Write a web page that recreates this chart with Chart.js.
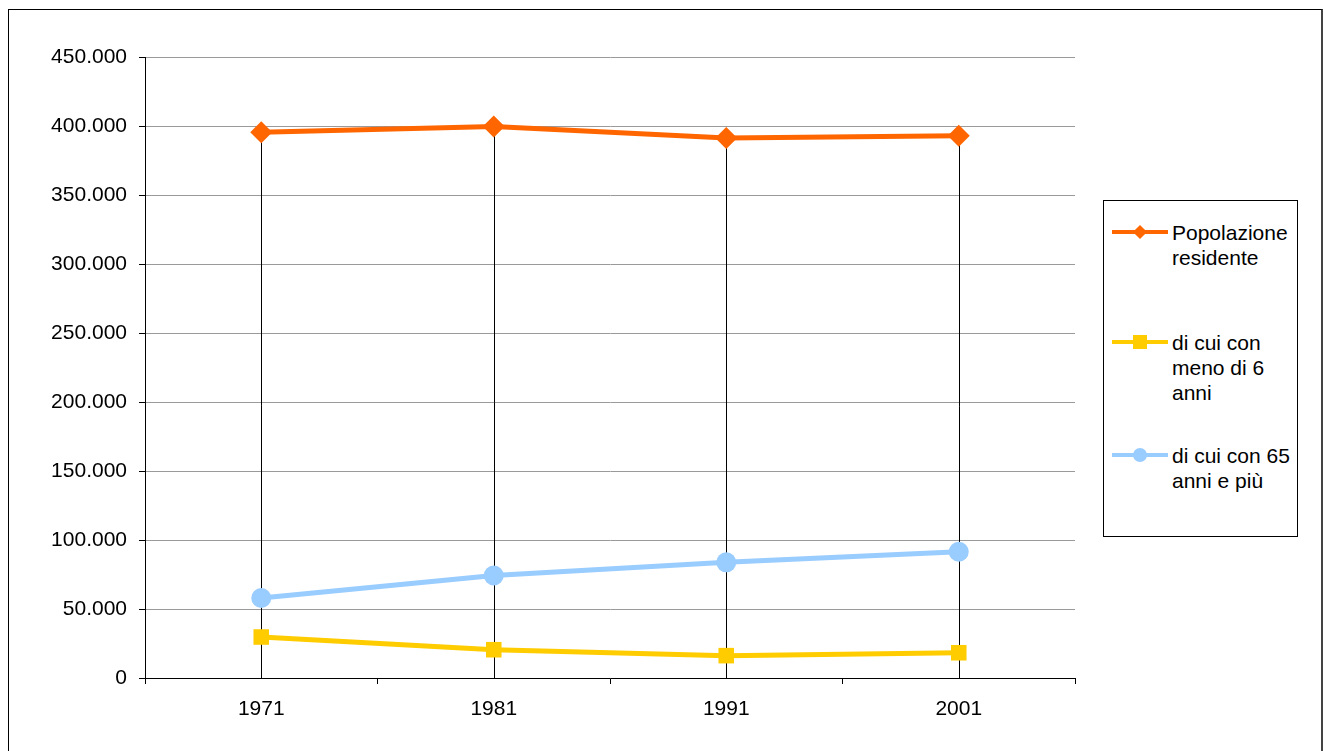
<!DOCTYPE html>
<html>
<head>
<meta charset="utf-8">
<script src="https://cdn.jsdelivr.net/npm/chart.js@4"></script>
<style>
  html, body { margin: 0; padding: 0; background: #fff; }
  body { width: 1324px; height: 751px; position: relative; overflow: hidden; font-family: "Liberation Sans", Arial, sans-serif; }
  #frame { position: absolute; left: 8px; top: 9px; width: 1312px; height: 780px; border: 1px solid #000; border-right: 2px solid #444; }
  #wrap { position: absolute; left: 0; top: 0; width: 1324px; height: 751px; }
  #legend { position: absolute; left: 1103px; top: 200px; width: 193px; height: 335px; border: 1px solid #000; background: #fff; }
  .item { position: absolute; left: 0; width: 193px; font-size: 21px; line-height: 25px; color: #000; }
  .item .txt { position: absolute; left: 68px; top: 0; white-space: nowrap; }
  .item .ln { position: absolute; left: 8px; top: 10px; width: 56px; height: 4px; }
  .item .mk { position: absolute; }
</style>
</head>
<body>
<div id="frame"></div>
<div id="wrap"><canvas id="chart" width="1324" height="751"></canvas></div>
<div id="legend"></div>
<script>
// -----------------------------
// DATA
// -----------------------------
const categories = ["1971", "1981", "1991", "2001"];
const popolazione = [395500, 399700, 391300, 393000];
const meno6 = [29700, 20500, 16200, 18300];
const over65 = [58000, 74300, 83800, 91500];

const seriesNames = [["Popolazione", "residente"], ["di cui con", "meno di 6", "anni"], ["di cui con 65", "anni e più"]];
const seriesColors = ["#FF6600", "#FFCC00", "#99CCFF"];

const fmt = v => String(v).replace(/\B(?=(\d{3})+(?!\d))/g, '.');

// drop lines from axis up to the highest point of each category
const dropLines = {
    id: 'dropLines',
    beforeDatasetsDraw(chart) {
        const { ctx, scales: { x, y } } = chart;
        ctx.save();
        ctx.strokeStyle = '#000';
        ctx.lineWidth = 1;
        categories.forEach((c, i) => {
            const top = Math.max(popolazione[i], meno6[i], over65[i]);
            const px = Math.round(x.getPixelForValue(i)) + 0.5;
            ctx.beginPath();
            ctx.moveTo(px, y.getPixelForValue(0));
            ctx.lineTo(px, y.getPixelForValue(top));
            ctx.stroke();
        });
        ctx.restore();
    }
};

const font = { family: '"Liberation Sans", Arial, sans-serif', size: 21 };

new Chart(document.getElementById('chart').getContext('2d'), {
    type: 'line',
    data: {
        labels: categories,
        datasets: [{
            label: 'Popolazione residente',
            data: popolazione,
            borderColor: seriesColors[0],
            backgroundColor: seriesColors[0],
            borderWidth: 5,
            pointStyle: 'rectRot',
            pointRadius: 11,
            pointBorderWidth: 0,
            tension: 0
        }, {
            label: 'di cui con meno di 6 anni',
            data: meno6,
            borderColor: seriesColors[1],
            backgroundColor: seriesColors[1],
            borderWidth: 5,
            pointStyle: 'rect',
            pointRadius: 11,
            pointBorderWidth: 0,
            tension: 0
        }, {
            label: 'di cui con 65 anni e più',
            data: over65,
            borderColor: seriesColors[2],
            backgroundColor: seriesColors[2],
            borderWidth: 5,
            pointStyle: 'circle',
            pointRadius: 10,
            pointBorderWidth: 0,
            tension: 0
        }]
    },
    options: {
        responsive: false,
        animation: false,
        layout: { padding: { left: 0, top: 57, right: 249, bottom: 0 } },
        plugins: { legend: { display: false }, tooltip: { enabled: false } },
        scales: {
            x: {
                offset: true,
                grid: { offset: true, drawOnChartArea: false, tickLength: 6, tickColor: '#000' },
                border: { color: '#000', width: 1 },
                ticks: { color: '#000', font: font, padding: 13, maxRotation: 0 },
                afterFit(scale) { scale.height = 73; }
            },
            y: {
                min: 0,
                max: 450000,
                ticks: { stepSize: 50000, color: '#000', font: font, padding: 12, callback: v => fmt(v) },
                grid: { color: '#9a9a9a', tickLength: 6, tickColor: '#000' },
                border: { color: '#000', width: 1 },
                afterFit(scale) { scale.width = 145; }
            }
        }
    },
    plugins: [dropLines]
});

// -----------------------------
// LEGEND
// -----------------------------
const legendTops = [19, 129, 242];
const legend = document.getElementById('legend');
seriesNames.forEach((lines, i) => {
    const item = document.createElement('div');
    item.className = 'item';
    item.style.top = legendTops[i] + 'px';
    let mk;
    if (i === 0) mk = '<div class="mk" style="left:31px;top:7px;width:10px;height:10px;background:' + seriesColors[i] + ';transform:rotate(45deg)"></div>';
    else if (i === 1) mk = '<div class="mk" style="left:29px;top:5px;width:14px;height:14px;background:' + seriesColors[i] + '"></div>';
    else mk = '<div class="mk" style="left:29px;top:5px;width:14px;height:14px;border-radius:50%;background:' + seriesColors[i] + '"></div>';
    item.innerHTML = '<div class="ln" style="background:' + seriesColors[i] + '"></div>' + mk +
        '<div class="txt">' + lines.join('<br>') + '</div>';
    legend.appendChild(item);
});
</script>
</body>
</html>
